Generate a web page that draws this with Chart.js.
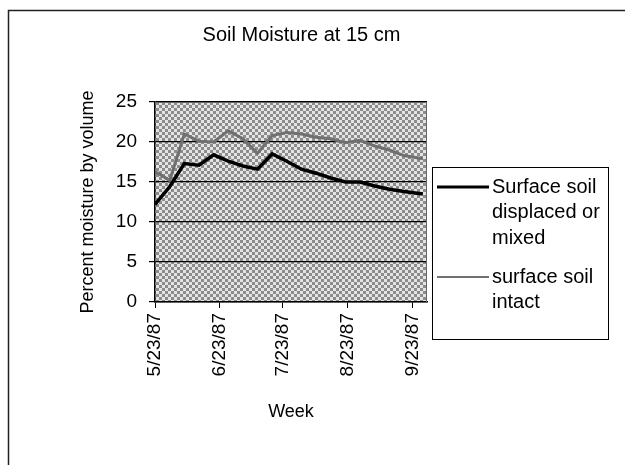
<!DOCTYPE html>
<html>
<head>
<meta charset="utf-8">
<script src="https://cdn.jsdelivr.net/npm/chart.js@4"></script>
<style>
  html, body { margin: 0; padding: 0; background: #fff; }
  #wrap { width: 625px; height: 465px; }
</style>
</head>
<body>
<div id="wrap"><canvas id="canvas"></canvas></div>
<script>
// days since 5/23/87
const days = [0, 7, 14, 21, 28, 35, 42, 49, 56, 63, 70, 77, 84, 91, 98, 105, 112, 119, 128];
const displaced = [12.2, 14.4, 17.3, 17.1, 18.4, 17.6, 17.0, 16.6, 18.5, 17.6, 16.6, 16.1, 15.5, 15.0, 15.0, 14.5, 14.1, 13.8, 13.5];
const intact = [16.3, 15.2, 21.0, 20.1, 20.0, 21.4, 20.4, 18.6, 20.8, 21.2, 21.0, 20.6, 20.4, 19.9, 20.2, 19.5, 19.0, 18.3, 17.9];
const tickDays = [0, 31, 61, 92, 123];
const tickLabels = ["5/23/87", "6/23/87", "7/23/87", "8/23/87", "9/23/87"];
const legendLabels = [["Surface soil", "displaced or", "mixed"], ["surface soil", "intact"]];

const FONT = "'Liberation Sans', Arial, sans-serif";

function makePattern(ctx) {
  const c = document.createElement("canvas");
  c.width = 6;
  c.height = 6;
  const p = c.getContext("2d");
  p.fillStyle = "#e4e4e4";
  p.fillRect(0, 0, 6, 6);
  p.fillStyle = "#8c8c8c";
  p.fillRect(0, 0, 3, 3);
  p.fillRect(3, 3, 3, 3);
  return ctx.createPattern(c, "repeat");
}

const backdrop = {
  id: "backdrop",
  beforeDraw(chart) {
    const { ctx, chartArea: a } = chart;
    ctx.save();
    ctx.fillStyle = "#fff";
    ctx.fillRect(0, 0, chart.width, chart.height);
    ctx.fillStyle = makePattern(ctx);
    ctx.fillRect(a.left, a.top, a.right - a.left, a.bottom - a.top);
    // outer frame (top + left only, like the scan)
    ctx.strokeStyle = "#222";
    ctx.lineWidth = 1.5;
    ctx.beginPath();
    ctx.moveTo(625, 10.5);
    ctx.lineTo(8.5, 10.5);
    ctx.lineTo(8.5, 465);
    ctx.stroke();
    ctx.restore();
  },
  afterDatasetsDraw(chart) {
    const { ctx, chartArea: a } = chart;
    ctx.save();
    ctx.strokeStyle = "#666";
    ctx.lineWidth = 1;
    ctx.beginPath();
    ctx.moveTo(a.left, a.top + 0.5);
    ctx.lineTo(a.right - 0.5, a.top + 0.5);
    ctx.lineTo(a.right - 0.5, a.bottom);
    ctx.stroke();
    ctx.restore();
  },
};

const boxLegend = {
  id: "boxLegend",
  afterDraw(chart) {
    const ctx = chart.ctx;
    ctx.save();
    ctx.strokeStyle = "#000";
    ctx.lineWidth = 1;
    ctx.strokeRect(432.5, 167.5, 176, 172);
    ctx.font = "20px " + FONT;
    ctx.fillStyle = "#000";
    ctx.textBaseline = "middle";
    const starts = [187, 277];
    chart.data.datasets.forEach((ds, i) => {
      const y = starts[i];
      ctx.strokeStyle = ds.borderColor;
      ctx.lineWidth = i === 0 ? 3 : 2;
      ctx.beginPath();
      ctx.moveTo(437, y);
      ctx.lineTo(489, y);
      ctx.stroke();
      legendLabels[i].forEach((t, j) => ctx.fillText(t, 492, y + j * 25.5));
    });
    ctx.restore();
  },
};

const ctx = document.getElementById("canvas").getContext("2d");
new Chart(ctx, {
  type: "line",
  data: {
    datasets: [
      {
        label: "Surface soil displaced or mixed",
        data: days.map((d, i) => ({ x: d, y: displaced[i] })),
        borderColor: "#000",
        borderWidth: 3.5,
        pointRadius: 0,
        tension: 0,
      },
      {
        label: "surface soil intact",
        data: days.map((d, i) => ({ x: d, y: intact[i] })),
        borderColor: "#707070",
        borderWidth: 3,
        pointRadius: 0,
        tension: 0,
      },
    ],
  },
  options: {
    responsive: true,
    maintainAspectRatio: false,
    animation: false,
    layout: { padding: { left: 0, right: 22, top: 0, bottom: 0 } },
    plugins: {
      legend: { display: false },
      tooltip: { enabled: false },
      title: {
        display: true,
        text: "Soil Moisture at 15 cm",
        color: "#000",
        font: { family: FONT, size: 20, weight: "normal", lineHeight: 1.2 },
        padding: { top: 23, bottom: 55 },
      },
    },
    scales: {
      x: {
        type: "linear",
        min: 0,
        max: 130,
        afterBuildTicks: (scale) => {
          scale.ticks = tickDays.map((v) => ({ value: v }));
        },
        afterFit: (scale) => {
          scale.height = 163;
        },
        ticks: {
          autoSkip: false,
          minRotation: 90,
          maxRotation: 90,
          padding: 5,
          color: "#000",
          font: { family: FONT, size: 19 },
          callback: (value, index) => tickLabels[index],
        },
        grid: { drawOnChartArea: false, drawTicks: true, tickLength: 6, color: "#000" },
        border: { color: "#000", width: 1.5 },
        title: {
          display: true,
          text: "Week",
          color: "#000",
          font: { family: FONT, size: 18, lineHeight: 1.2 },
          padding: { top: 0, bottom: 42 },
        },
      },
      y: {
        min: 0,
        max: 25,
        afterFit: (scale) => {
          scale.width = 155;
        },
        ticks: {
          stepSize: 5,
          padding: 12,
          color: "#000",
          font: { family: FONT, size: 19 },
        },
        grid: { color: "#000", lineWidth: 1.2, tickLength: 6, drawTicks: true },
        border: { color: "#000", width: 1.5 },
        title: {
          display: true,
          text: "Percent moisture by volume",
          color: "#000",
          font: { family: FONT, size: 18, lineHeight: 1.2 },
          padding: { top: 77, bottom: 0 },
        },
      },
      // empty right-hand space that holds the legend box
      legendSpace: {
        type: "linear",
        position: "right",
        display: true,
        ticks: { display: false },
        grid: { display: false },
        border: { display: false },
        afterFit: (scale) => {
          scale.width = 176;
        },
      },
    },
  },
  plugins: [backdrop, boxLegend],
});
</script>
</body>
</html>
